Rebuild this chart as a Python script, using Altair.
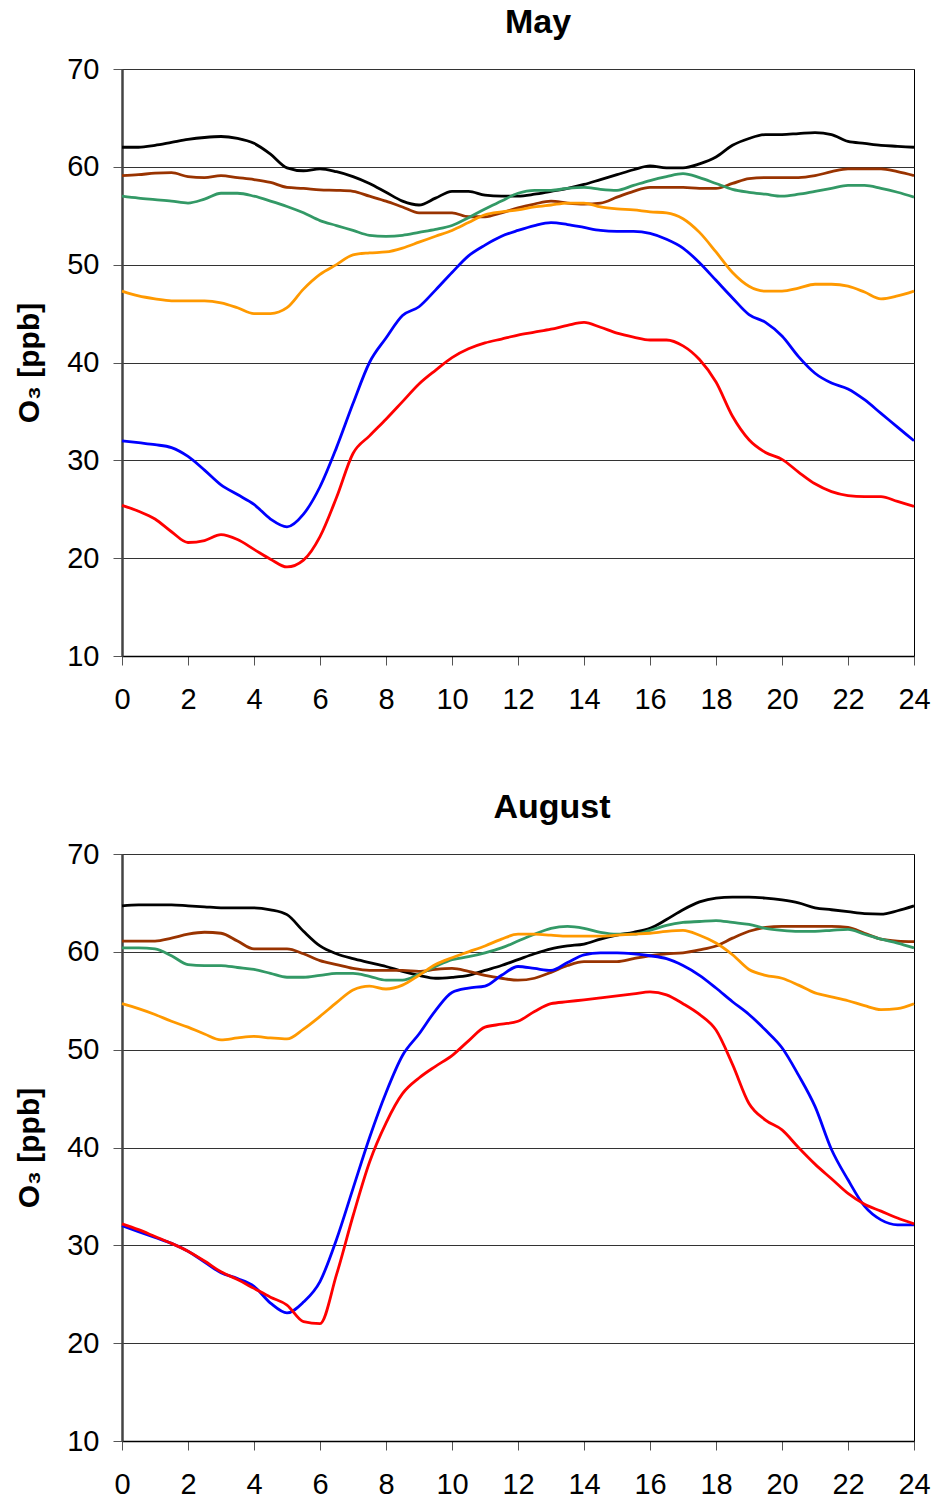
import altair as alt
import pandas as pd

HOURS = [0, 0.5, 1, 1.5, 2, 2.5, 3, 3.5, 4, 4.5, 5, 5.5, 6, 6.5, 7, 7.5, 8, 8.5,
         9, 9.5, 10, 10.5, 11, 11.5, 12, 12.5, 13, 13.5, 14, 14.5, 15, 15.5, 16,
         16.5, 17, 17.5, 18, 18.5, 19, 19.5, 20, 20.5, 21, 21.5, 22, 22.5, 23,
         23.5, 24]

SERIES = ["s1", "s2", "s3", "s4", "s5", "s6"]
COLORS = ["#000000", "#993300", "#339966", "#FF9900", "#0000FF", "#FF0000"]

# ---- May ----
MAY_BLACK = [62.0, 62.0, 62.2, 62.5, 62.8, 63.0, 63.1, 62.9, 62.4, 61.3, 59.9, 59.6,
             59.8, 59.5, 59.0, 58.3, 57.4, 56.5, 56.1, 56.8, 57.5, 57.5, 57.1, 57.0,
             57.0, 57.2, 57.5, 57.8, 58.2, 58.7, 59.2, 59.7, 60.1, 59.9, 59.9, 60.3,
             61.0, 62.2, 62.9, 63.3, 63.3, 63.4, 63.5, 63.3, 62.6, 62.4, 62.2, 62.1, 62.0]
MAY_BROWN = [59.1, 59.2, 59.35, 59.4, 59.0, 58.9, 59.1, 58.9, 58.7, 58.4, 57.9, 57.8,
             57.65, 57.6, 57.5, 57.0, 56.5, 55.9, 55.3, 55.3, 55.3, 54.9, 54.9, 55.3,
             55.8, 56.2, 56.5, 56.3, 56.2, 56.3, 56.9, 57.5, 57.9, 57.9, 57.9, 57.8,
             57.8, 58.3, 58.8, 58.9, 58.9, 58.9, 59.1, 59.5, 59.8, 59.8, 59.8, 59.5, 59.1]
MAY_GREEN = [57.0, 56.8, 56.65, 56.5, 56.3, 56.7, 57.3, 57.3, 57.0, 56.5, 55.95, 55.3,
             54.5, 54.0, 53.5, 53.0, 52.9, 53.0, 53.3, 53.6, 54.0, 54.8, 55.7, 56.5,
             57.3, 57.6, 57.6, 57.8, 57.9, 57.7, 57.6, 58.1, 58.6, 59.0, 59.3, 58.9,
             58.3, 57.7, 57.4, 57.2, 57.0, 57.2, 57.5, 57.8, 58.1, 58.1, 57.8, 57.4, 56.9]
MAY_ORANGE = [47.3, 46.8, 46.5, 46.3, 46.3, 46.3, 46.1, 45.6, 45.0, 45.0, 45.6, 47.5,
              49.0, 50.0, 51.0, 51.2, 51.3, 51.7, 52.3, 52.9, 53.5, 54.3, 55.1, 55.4,
              55.6, 55.9, 56.1, 56.3, 56.3, 55.9, 55.7, 55.6, 55.4, 55.3, 54.7, 53.3,
              51.3, 49.2, 47.8, 47.3, 47.3, 47.6, 48.0, 48.0, 47.8, 47.2, 46.5, 46.8, 47.3]
MAY_BLUE = [32.0, 31.8, 31.6, 31.3, 30.4, 29.0, 27.5, 26.5, 25.5, 24.0, 23.2, 24.5,
            27.3, 31.3, 35.8, 40.0, 42.5, 44.8, 45.7, 47.4, 49.2, 50.9, 52.0, 52.9,
            53.5, 54.0, 54.3, 54.1, 53.8, 53.5, 53.4, 53.4, 53.2, 52.6, 51.7, 50.2,
            48.4, 46.6, 44.9, 44.1, 42.7, 40.6, 38.9, 37.9, 37.3, 36.2, 34.8, 33.4, 32.0]
MAY_RED = [25.4, 24.8, 24.0, 22.7, 21.6, 21.8, 22.4, 21.9, 20.9, 19.9, 19.1, 19.8,
           22.2, 26.2, 30.7, 32.5, 34.2, 36.0, 37.8, 39.2, 40.5, 41.4, 42.0, 42.4,
           42.8, 43.1, 43.4, 43.8, 44.1, 43.6, 43.0, 42.6, 42.3, 42.3, 41.7, 40.3,
           38.0, 34.5, 32.1, 30.8, 30.1, 28.8, 27.6, 26.8, 26.4, 26.3, 26.3, 25.8, 25.3]

# ---- August ----
AUG_BLACK = [64.7, 64.8, 64.8, 64.8, 64.7, 64.6, 64.5, 64.5, 64.5, 64.3, 63.8, 62.1,
             60.6, 59.8, 59.3, 58.9, 58.5, 58.0, 57.6, 57.3, 57.4, 57.6, 58.1, 58.6,
             59.2, 59.8, 60.3, 60.6, 60.8, 61.3, 61.7, 62.0, 62.4, 63.3, 64.3, 65.1,
             65.5, 65.6, 65.6, 65.5, 65.3, 65.0, 64.5, 64.3, 64.1, 63.9, 63.85, 64.2, 64.7]
AUG_BROWN = [61.1, 61.1, 61.1, 61.4, 61.8, 62.0, 61.9, 61.1, 60.3, 60.3, 60.3, 59.8,
             59.1, 58.7, 58.3, 58.1, 58.1, 58.1, 58.0, 58.2, 58.3, 58.0, 57.6, 57.3,
             57.1, 57.3, 57.9, 58.6, 59.0, 59.0, 59.0, 59.3, 59.6, 59.8, 59.9, 60.2,
             60.6, 61.4, 62.1, 62.5, 62.6, 62.6, 62.6, 62.6, 62.5, 61.9, 61.3, 61.1, 61.05]
AUG_GREEN = [60.4, 60.4, 60.3, 59.6, 58.7, 58.6, 58.6, 58.4, 58.2, 57.8, 57.4, 57.4,
             57.6, 57.8, 57.8, 57.5, 57.1, 57.1, 57.7, 58.5, 59.2, 59.5, 59.9, 60.4,
             61.1, 61.8, 62.4, 62.6, 62.4, 62.0, 61.8, 61.8, 62.2, 62.7, 63.0, 63.1,
             63.2, 63.0, 62.8, 62.4, 62.2, 62.1, 62.1, 62.2, 62.3, 61.8, 61.3, 60.9, 60.4]
AUG_ORANGE = [54.7, 54.2, 53.6, 52.9, 52.3, 51.6, 51.0, 51.2, 51.35, 51.2, 51.1, 52.1,
              53.4, 54.8, 56.1, 56.5, 56.2, 56.6, 57.6, 58.7, 59.4, 60.0, 60.6, 61.3,
              61.8, 61.8, 61.7, 61.6, 61.6, 61.6, 61.7, 61.8, 61.9, 62.1, 62.2, 61.7,
              60.9, 59.7, 58.2, 57.6, 57.3, 56.6, 55.8, 55.4, 55.0, 54.5, 54.1, 54.2, 54.7]
AUG_BLUE = [32.0, 31.4, 30.8, 30.2, 29.4, 28.3, 27.2, 26.6, 25.8, 24.1, 23.1, 24.2,
            26.3, 30.6, 35.8, 41.0, 45.6, 49.4, 51.6, 54.0, 55.85, 56.3, 56.5, 57.6,
            58.5, 58.3, 58.1, 58.9, 59.7, 59.9, 59.9, 59.8, 59.6, 59.3, 58.6, 57.6,
            56.3, 54.9, 53.6, 52.0, 50.2, 47.4, 44.2, 39.8, 36.7, 34.0, 32.6, 32.1, 32.1]
AUG_RED = [32.2, 31.6, 30.9, 30.2, 29.4, 28.4, 27.3, 26.5, 25.6, 24.7, 23.9, 22.2,
           22.0, 27.0, 33.0, 38.5, 42.5, 45.5, 47.1, 48.3, 49.4, 50.9, 52.3, 52.6,
           52.9, 53.9, 54.7, 54.9, 55.1, 55.3, 55.5, 55.7, 55.9, 55.6, 54.7, 53.6,
           52.0, 48.5, 44.5, 42.8, 41.8, 40.0, 38.3, 36.8, 35.3, 34.2, 33.5, 32.8, 32.2]

MONTHS = {
    "May": [MAY_BLACK, MAY_BROWN, MAY_GREEN, MAY_ORANGE, MAY_BLUE, MAY_RED],
    "August": [AUG_BLACK, AUG_BROWN, AUG_GREEN, AUG_ORANGE, AUG_BLUE, AUG_RED],
}
TITLE_DX = {"May": 20, "August": 34}

X_TICKS = [0, 2, 4, 6, 8, 10, 12, 14, 16, 18, 20, 22, 24]
Y_TICKS = [10, 20, 30, 40, 50, 60, 70]

FONT = "Liberation Sans"


def panel(month):
    rows = []
    for name, values in zip(SERIES, MONTHS[month]):
        for h, v in zip(HOURS, values):
            rows.append({"series": name, "hour": h, "o3": v})
    df = pd.DataFrame(rows)
    return alt.Chart(df).mark_line(strokeWidth=2.8, interpolate="monotone").encode(
        x=alt.X("hour:Q",
                scale=alt.Scale(domain=[0, 24], nice=False, zero=False),
                axis=alt.Axis(values=X_TICKS, grid=False, title=None,
                              tickSize=9, labelPadding=20, tickColor="#555",
                              labelFlush=False, labelOverlap=False,
                              domainColor="#000", domainWidth=1.5)),
        y=alt.Y("o3:Q",
                scale=alt.Scale(domain=[10, 70], nice=False, zero=False),
                axis=alt.Axis(values=Y_TICKS, grid=True, title="O₃ [ppb]",
                              tickSize=9, labelPadding=14, tickColor="#555",
                              labelFlush=False, labelOverlap=False,
                              domainColor="#444", domainWidth=2.5,
                              titleFontSize=30, titleFontWeight="bold",
                              titlePadding=22)),
        color=alt.Color("series:N", scale=alt.Scale(domain=SERIES, range=COLORS),
                        legend=None),
        order=alt.Order("hour:Q"),
    ).properties(
        width=792, height=587,
        title=alt.TitleParams(month, fontSize=34, fontWeight="bold", font=FONT,
                              anchor="middle", frame="group", offset=15,
                              dx=TITLE_DX[month], color="#000"),
    )


chart = alt.vconcat(panel("May"), panel("August"), spacing=75).properties(
    padding={"left": 14, "top": 5, "right": 5, "bottom": 5},
    background="#ffffff",
).configure_view(
    stroke="#000", strokeWidth=1
).configure_axis(
    labelFont=FONT, titleFont=FONT, labelFontSize=29, labelColor="#000",
    titleColor="#000", gridColor="#333", gridWidth=1, gridOpacity=1
)

chart.save("out.html", embed_options={"renderer": "svg", "actions": False})
